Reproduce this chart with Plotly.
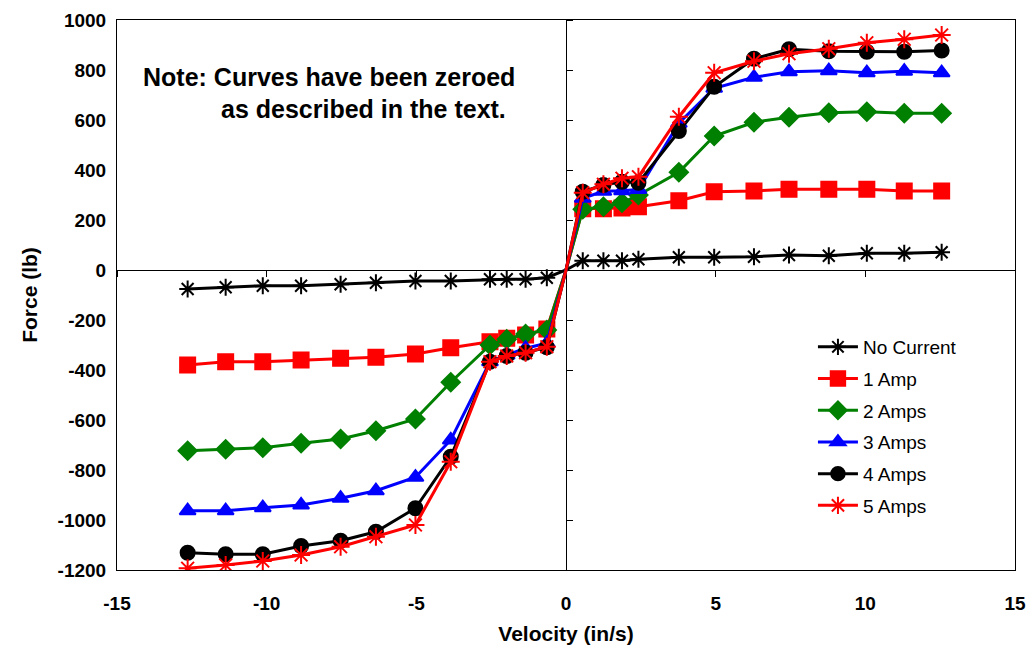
import plotly.graph_objects as go

# Velocity (in/s) – negative stroke, origin, positive stroke
vel_neg = [-12.64, -11.37, -10.13, -8.85, -7.53, -6.35, -5.03, -3.85, -2.54, -1.98, -1.35, -0.64]
vel_pos = [0.56, 1.25, 1.87, 2.42, 3.77, 4.95, 6.28, 7.45, 8.78, 10.05, 11.3, 12.55]
velocity = vel_neg + [0.0] + vel_pos

no_current = [-76, -69, -63, -63, -57, -51, -44, -44, -37, -37, -37, -31, 0,
              37, 37, 37, 43, 51, 51, 53, 60, 57, 67, 67, 71]
amp1 = [-380, -367, -367, -360, -353, -349, -336, -311, -287, -273, -260, -236, 0,
        245, 245, 248, 253, 277, 313, 316, 323, 323, 323, 316, 316]
amp2 = [-723, -717, -711, -693, -676, -643, -596, -449, -300, -277, -256, -240, 0,
        243, 253, 269, 300, 391, 536, 591, 611, 629, 633, 627, 627]
amp3 = [-963, -963, -951, -940, -913, -883, -829, -680, -367, -340, -313, -293, 0,
        287, 315, 317, 322, 587, 727, 771, 793, 797, 789, 795, 789]
amp4 = [-1131, -1137, -1137, -1104, -1083, -1047, -953, -747, -367, -344, -331, -309, 0,
        313, 340, 353, 349, 556, 733, 845, 883, 875, 873, 873, 878]
amp5 = [-1193, -1180, -1164, -1140, -1107, -1067, -1020, -767, -367, -344, -331, -307, 0,
        309, 343, 367, 373, 613, 789, 835, 865, 885, 909, 923, 940]

series = [
    ("No Current", no_current, "black", "asterisk-open", 14),
    ("1 Amp", amp1, "#FF0000", "square", 15),
    ("2 Amps", amp2, "#008000", "diamond", 14),
    ("3 Amps", amp3, "#0000FF", "triangle-up", 14),
    ("4 Amps", amp4, "black", "circle", 14),
    ("5 Amps", amp5, "#FF0000", "asterisk-open", 15),
]

x_ticks = [-15, -10, -5, 0, 5, 10, 15]
y_ticks = [-1200, -1000, -800, -600, -400, -200, 0, 200, 400, 600, 800, 1000]
x_ticktext = [str(v) for v in x_ticks]
y_ticktext = [str(v) for v in y_ticks]

fig = go.Figure()

# invisible trace to create the overlay subplot for the zero-crossing axes
fig.add_trace(go.Scatter(x=[None], y=[None], xaxis="x2", yaxis="y2",
                         showlegend=False, hoverinfo="skip", mode="markers"))

for i, (name, vals, color, sym, size) in enumerate(series):
    sizes = [size] * len(velocity)
    sizes[len(vel_neg)] = 0  # no marker at the origin
    fig.add_trace(go.Scatter(
        x=velocity, y=vals, name=name, mode="lines+markers",
        legendgroup=f"g{i}",
        line=dict(color=color, width=3),
        marker=dict(symbol=sym, size=sizes, color=color, opacity=1,
                    line=dict(color=color, width=2)),
    ))

tick_font = dict(family="Arial, Liberation Sans", size=19, color="black", weight="bold")
title_font = dict(family="Arial, Liberation Sans", size=21, color="black", weight="bold")

fig.update_layout(
    width=1029, height=650,
    paper_bgcolor="white", plot_bgcolor="white",
    margin=dict(l=117, r=14, t=20, b=80),
    font=dict(family="Arial, Liberation Sans", color="black"),
    xaxis=dict(range=[-15, 15], tickvals=x_ticks, ticktext=x_ticktext,
               showgrid=False, zeroline=False, automargin=False,
               showline=True, linecolor="black", linewidth=1, mirror=True,
               ticks="", tickfont=tick_font, ticklabelstandoff=16,
               title=dict(text="Velocity (in/s)", font=title_font, standoff=13)),
    yaxis=dict(range=[-1200, 1000], tickvals=y_ticks, ticktext=y_ticktext,
               showgrid=False, zeroline=False, automargin=False,
               showline=True, linecolor="black", linewidth=1, mirror=True,
               ticks="", tickfont=tick_font, ticklabelstandoff=6,
               title=dict(text="Force (lb)", font=title_font, standoff=14)),
    xaxis2=dict(range=[-15, 15], tickvals=x_ticks, overlaying="x", anchor="free",
                position=1200 / 2200, side="bottom", showgrid=False, zeroline=False,
                showline=True, linecolor="black", linewidth=1, ticks="outside",
                ticklen=6, tickcolor="black", showticklabels=False, layer="below traces"),
    yaxis2=dict(range=[-1200, 1000], tickvals=y_ticks, overlaying="y", anchor="free",
                position=0.5, side="right", showgrid=False, zeroline=False,
                showline=True, linecolor="black", linewidth=1, ticks="outside",
                ticklen=6, tickcolor="black", showticklabels=False, layer="below traces"),
    legend=dict(x=0.775, y=0.44, xanchor="left", yanchor="top",
                bgcolor="rgba(0,0,0,0)", font=dict(family="Arial, Liberation Sans", size=19),
                tracegroupgap=4, itemwidth=40),
    showlegend=True,
)

note_font = dict(family="Arial, Liberation Sans", size=25, color="black", weight="bold")
fig.add_annotation(xref="paper", yref="paper", x=(141 - 117) / 898, y=(570 - 77) / 550,
                   xanchor="left", yanchor="middle", showarrow=False,
                   text="Note: Curves have been zeroed", font=note_font)
fig.add_annotation(xref="paper", yref="paper", x=(219 - 117) / 898, y=(570 - 109) / 550,
                   xanchor="left", yanchor="middle", showarrow=False,
                   text="as described in the text.", font=note_font)

fig.write_html("out.html")
